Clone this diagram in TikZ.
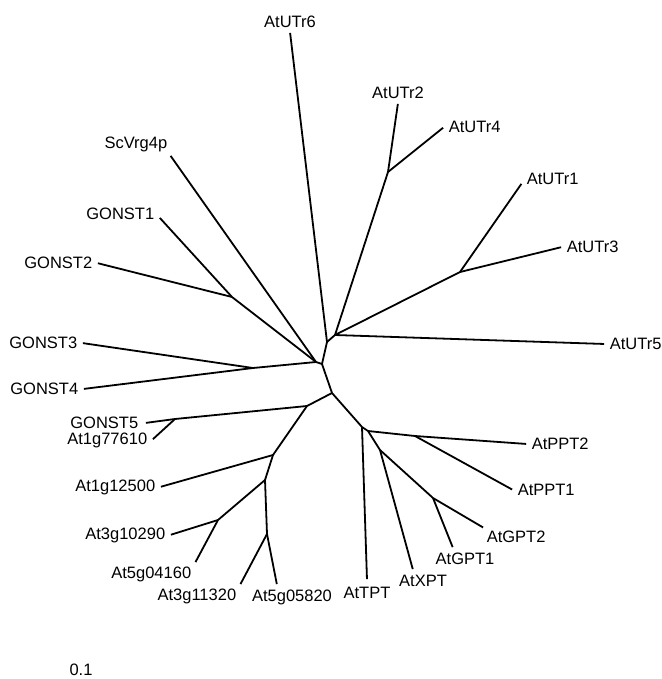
\documentclass[tikz,border=0pt]{standalone}
\usepackage{fontspec}
\setmainfont{Liberation Sans}
\begin{document}
\begin{tikzpicture}[
  x=1pt, y=-1pt,
  line width=1.8pt,
  every node/.style={font=\fontsize{16.5}{20}\selectfont},
  every label/.style={inner sep=3pt},
  tip/.style={inner sep=0pt, minimum size=0pt}
]
  \useasboundingbox (0, 0) rectangle (661, 679);

  % inner nodes
  \coordinate (c) at (322, 364);
  \coordinate (x) at (316, 362);
  \coordinate (g12) at (232, 297);
  \coordinate (g34) at (253, 368);
  \coordinate (u1) at (327, 342);
  \coordinate (u2) at (335, 335);
  \coordinate (u24) at (388, 172);
  \coordinate (u13) at (460, 272);
  \coordinate (d) at (332, 393);
  \coordinate (e) at (307, 406);
  \coordinate (g5) at (175, 419);
  \coordinate (g) at (273, 455);
  \coordinate (h) at (265, 480);
  \coordinate (hc) at (218, 520);
  \coordinate (i) at (267, 534);
  \coordinate (f) at (362, 427);
  \coordinate (j) at (368, 431);
  \coordinate (k) at (415, 436);
  \coordinate (l) at (380, 450);
  \coordinate (m) at (433, 498);

  % leaves
  \node[tip, label=above:{AtUTr6}] (utr6) at (290, 32) {};
  \node[tip, label=above:{AtUTr2}] (utr2) at (398, 103) {};
  \node[tip, label=right:{AtUTr4}] (utr4) at (444, 127) {};
  \node[tip, label={[yshift=4pt]right:{AtUTr1}}] (utr1) at (522, 183) {};
  \node[tip, label=right:{AtUTr3}] (utr3) at (562, 247) {};
  \node[tip, label=right:{AtUTr5}] (utr5) at (605, 344) {};
  \node[tip, label={[inner sep=1pt]above left:{ScVrg4p}}] (vrg4p) at (170, 155) {};
  \node[tip, label={[yshift=3pt]left:{GONST1}}] (gonst1) at (159, 217) {};
  \node[tip, label=left:{GONST2}] (gonst2) at (97, 263) {};
  \node[tip, label=left:{GONST3}] (gonst3) at (82, 343) {};
  \node[tip, label=left:{GONST4}] (gonst4) at (83, 389) {};
  \node[tip, label={[inner sep=5pt]left:{GONST5}}] (gonst5) at (145, 423) {};
  \node[tip, label=left:{At1g77610}] (at1g77610) at (152, 440) {};
  \node[tip, label=left:{At1g12500}] (at1g12500) at (160, 487) {};
  \node[tip, label=left:{At3g10290}] (at3g10290) at (170, 535) {};
  \node[tip, label={[inner sep=2pt]below left:{At5g04160}}] (at5g04160) at (195, 563) {};
  \node[tip, label={[inner sep=2pt]below left:{At3g11320}}] (at3g11320) at (240, 585) {};
  \node[tip, label={[xshift=15pt]below:{At5g05820}}] (at5g05820) at (277, 585) {};
  \node[tip, label={[inner sep=5pt]below:{AtTPT}}] (tpt) at (367, 580) {};
  \node[tip, label={[xshift=10pt]below:{AtXPT}}] (xpt) at (413, 570) {};
  \node[tip, label={[xshift=12pt]below:{AtGPT1}}] (gpt1) at (453, 548) {};
  \node[tip, label={[inner sep=1pt]below right:{AtGPT2}}] (gpt2) at (484, 528) {};
  \node[tip, label=right:{AtPPT2}] (ppt2) at (527, 444) {};
  \node[tip, label=right:{AtPPT1}] (ppt1) at (513, 490) {};

  \node[inner sep=0pt] (scale) at (81, 670) {0.1};

  % branches
  \draw (c) -- (x);
  \draw (x) -- (vrg4p);
  \draw (x) -- (g12);
  \draw (g12) -- (gonst1);
  \draw (g12) -- (gonst2);
  \draw (x) -- (g34);
  \draw (g34) -- (gonst3);
  \draw (g34) -- (gonst4);

  \draw (c) -- (u1);
  \draw (u1) -- (utr6);
  \draw (u1) -- (u2);
  \draw (u2) -- (u24);
  \draw (u24) -- (utr2);
  \draw (u24) -- (utr4);
  \draw (u2) -- (u13);
  \draw (u13) -- (utr1);
  \draw (u13) -- (utr3);
  \draw (u2) -- (utr5);

  \draw (c) -- (d);
  \draw (d) -- (e);
  \draw (e) -- (g5);
  \draw (g5) -- (gonst5);
  \draw (g5) -- (at1g77610);
  \draw (e) -- (g);
  \draw (g) -- (at1g12500);
  \draw (g) -- (h);
  \draw (h) -- (hc);
  \draw (hc) -- (at3g10290);
  \draw (hc) -- (at5g04160);
  \draw (h) -- (i);
  \draw (i) -- (at3g11320);
  \draw (i) -- (at5g05820);

  \draw (d) -- (f);
  \draw (f) -- (tpt);
  \draw (f) -- (j);
  \draw (j) -- (k);
  \draw (k) -- (ppt2);
  \draw (k) -- (ppt1);
  \draw (j) -- (l);
  \draw (l) -- (xpt);
  \draw (l) -- (m);
  \draw (m) -- (gpt1);
  \draw (m) -- (gpt2);
\end{tikzpicture}
\end{document}
